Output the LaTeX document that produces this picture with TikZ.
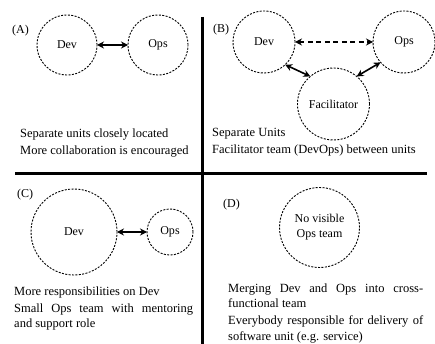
\documentclass[tikz,border=0pt]{standalone}
\usepackage{fontspec}
\setmainfont{Liberation Serif}
\usetikzlibrary{arrows.meta}

\begin{document}
\begin{tikzpicture}[x=1pt, y=-1pt, >={Stealth[length=7pt,width=7pt]},
  font=\fontsize{12.5}{15.5}\selectfont,
  unit/.style={draw, circle, dash pattern=on 2pt off 1.4pt, line width=0.9pt, inner sep=0pt, outer sep=0pt, align=center,
    font=\fontsize{12}{15}\selectfont},
  tag/.style={anchor=west, inner sep=0pt, font=\fontsize{12}{14}\selectfont},
  note/.style={anchor=base west, inner sep=0pt, align=justify,
    execute at begin node={\setlength{\parskip}{1.5pt}}},
  link/.style={<->, line width=1.6pt},
  divider/.style={line width=3pt}]
\useasboundingbox (0,0) rectangle (435,344);
% dividers
\draw[divider] (202,17) -- (202,344);
\draw[divider] (15,174) -- (427,174);
% (A) separate units
\node[tag] (tagA) at (12,31) {(A)};
\node[unit, minimum size=60pt] (devA) at (67,45) {Dev};
\node[unit, minimum size=60pt] (opsA) at (158,45) {Ops};
\draw[link] (devA) -- (opsA);
\node[note, text width=180pt] (noteA) at (20,138) {Separate units closely located\par More collaboration is encouraged};
% (B) facilitator
\node[tag] (tagB) at (213,30) {(B)};
\node[unit, minimum size=62pt] (devB) at (264,42) {Dev};
\node[unit, minimum size=62pt] (opsB) at (404,42) {Ops};
\node[unit, minimum size=72pt] (facB) at (333.5,104) {Facilitator};
\draw[link, dash pattern=on 5pt off 3.5pt] (devB) -- (opsB);
\draw[link] (devB.-47) -- (facB.130);
\draw[link] (opsB.221) -- (facB.50);
\node[note, text width=215pt] (noteB) at (212,137) {Separate Units\par Facilitator team (DevOps) between units};
% (C) small ops team
\node[tag] (tagC) at (17,195) {(C)};
\node[unit, minimum size=86pt] (devC) at (74,232) {Dev};
\node[unit, minimum size=46pt] (opsC) at (170,232) {Ops};
\draw[link] (devC) -- (opsC);
\node[note, text width=179pt] (noteC) at (14,295) {More responsibilities on Dev\par
  Small Ops team with mentoring\linebreak and support role};
% (D) cross-functional team
\node[tag] (tagD) at (223,205) {(D)};
\node[unit, minimum size=80pt] (devopsD) at (319.5,227.5) {No visible\\Ops team};
\node[note, text width=195pt] (noteD) at (228,292) {Merging Dev and Ops into cross-\linebreak functional team\par
  Everybody responsible for delivery of\linebreak software unit (e.g. service)};
\end{tikzpicture}
\end{document}
